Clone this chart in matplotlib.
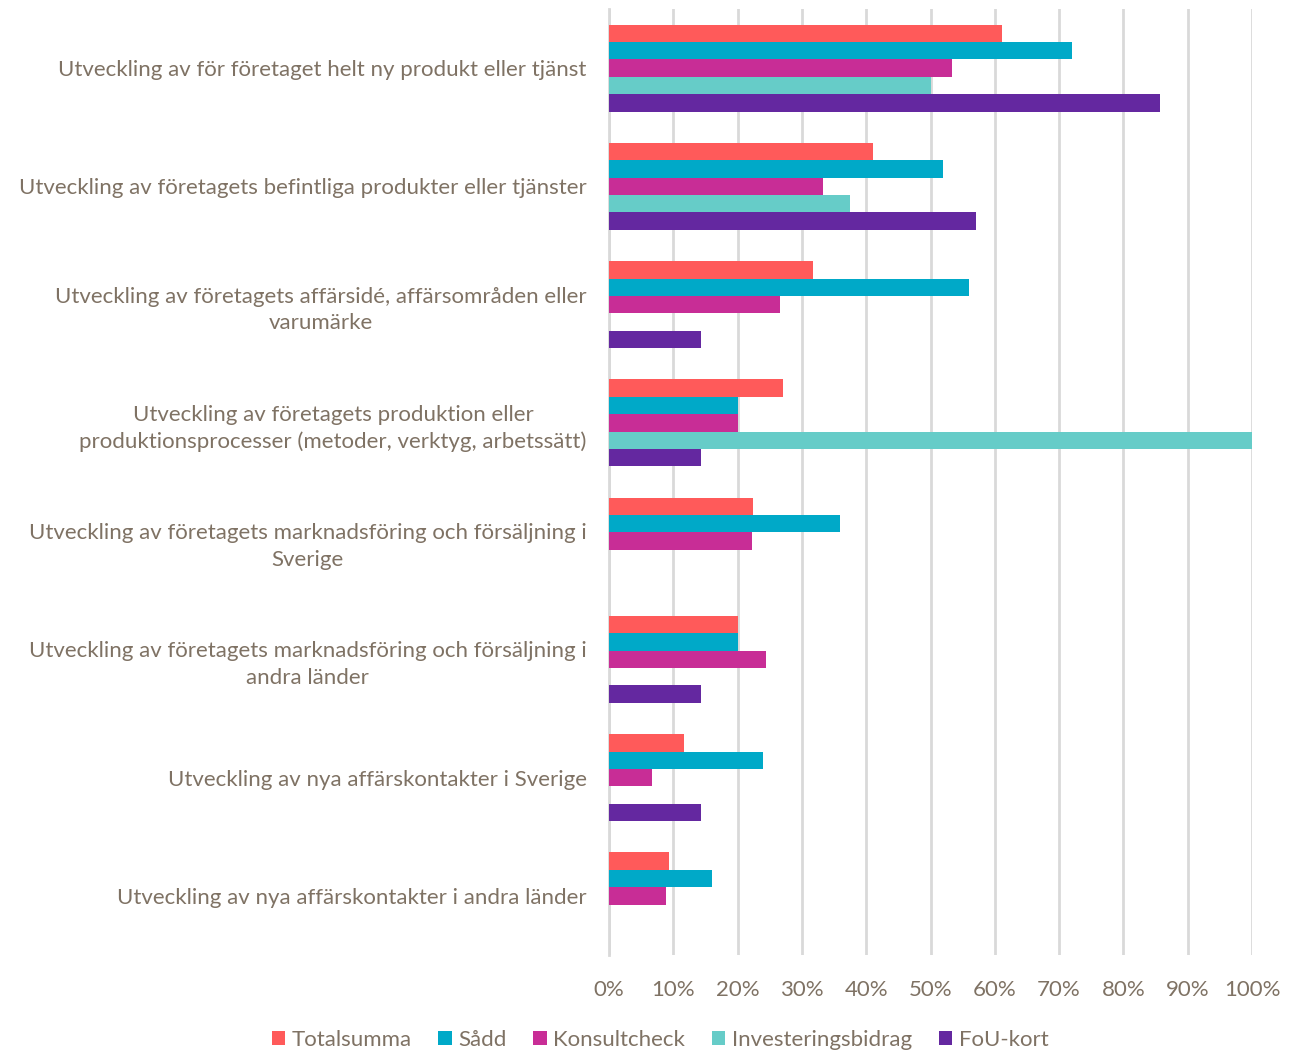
import matplotlib.pyplot as plt
import numpy as np

CATEGORIES = [
    "Utveckling av för företaget helt ny produkt eller tjänst",
    "Utveckling av företagets befintliga produkter eller tjänster",
    "Utveckling av företagets affärsidé, affärsområden eller\nvarumärke",
    "Utveckling av företagets produktion eller\nproduktionsprocesser (metoder, verktyg, arbetssätt)",
    "Utveckling av företagets marknadsföring och försäljning i\nSverige",
    "Utveckling av företagets marknadsföring och försäljning i\nandra länder",
    "Utveckling av nya affärskontakter i Sverige",
    "Utveckling av nya affärskontakter i andra länder",
]

SERIES = ["Totalsumma", "Sådd", "Konsultcheck", "Investeringsbidrag", "FoU-kort"]

TOTALSUMMA = [61.1, 41.1, 31.7, 27.0, 22.4, 20.0, 11.7, 9.4]
SADD = [72.0, 52.0, 56.0, 20.0, 36.0, 20.0, 24.0, 16.0]
KONSULTCHECK = [53.3, 33.3, 26.6, 20.0, 22.2, 24.4, 6.7, 8.9]
INVESTERINGSBIDRAG = [50.0, 37.5, 0.0, 100.0, 0.0, 0.0, 0.0, 0.0]
FOU_KORT = [85.7, 57.1, 14.3, 14.3, 0.0, 14.3, 14.3, 0.0]

COLORS = ["#FF5A5A", "#00A9C8", "#C82D96", "#66CCC8", "#6428A0"]
TEXT_COLOR = "#7F7264"

plt.rcParams["font.family"] = ["Lato", "DejaVu Sans"]

fig = plt.figure(figsize=(13.04, 10.51), dpi=100)
ax = fig.add_axes([609 / 1304, 1 - 955 / 1051, 643 / 1304, 946 / 1051])

values = [TOTALSUMMA, SADD, KONSULTCHECK, INVESTERINGSBIDRAG, FOU_KORT]
n_groups = len(CATEGORIES)
bar_h = 0.147
y = np.arange(n_groups)

for i, (name, vals, color) in enumerate(zip(SERIES, values, COLORS)):
    offset = (i - 2) * bar_h
    ax.barh(y + offset, vals, height=bar_h, color=color, label=name, zorder=3)

ax.set_ylim(n_groups - 0.5, -0.5)
ax.set_xlim(0, 100)
ax.set_xticks(np.arange(0, 101, 10))
ax.set_xticklabels([f"{v}%" for v in range(0, 101, 10)])
ax.set_yticks(y)
ax.set_yticklabels(CATEGORIES)
for lbl in ax.get_yticklabels():
    lbl.set_multialignment("center")
    lbl.set_linespacing(1.4)

ax.grid(axis="x", color="#D9D9D9", linewidth=2, zorder=0)
for side in ["top", "right", "bottom"]:
    ax.spines[side].set_visible(False)
ax.spines["left"].set_color("#D9D9D9")
ax.spines["left"].set_linewidth(2)
ax.spines["left"].set_zorder(1)
ax.tick_params(axis="both", length=0, colors=TEXT_COLOR, labelsize=16)
ax.tick_params(axis="y", pad=16)
ax.tick_params(axis="x", pad=18)

ax.legend(
    loc="center",
    bbox_to_anchor=(660 / 1304, 1 - 1040 / 1051),
    bbox_transform=fig.transFigure,
    ncol=5,
    frameon=False,
    fontsize=16,
    labelcolor=TEXT_COLOR,
    handlelength=0.6,
    handleheight=0.6,
    handletextpad=0.3,
    columnspacing=1.2,
)

fig.savefig("out.png", dpi=100)
